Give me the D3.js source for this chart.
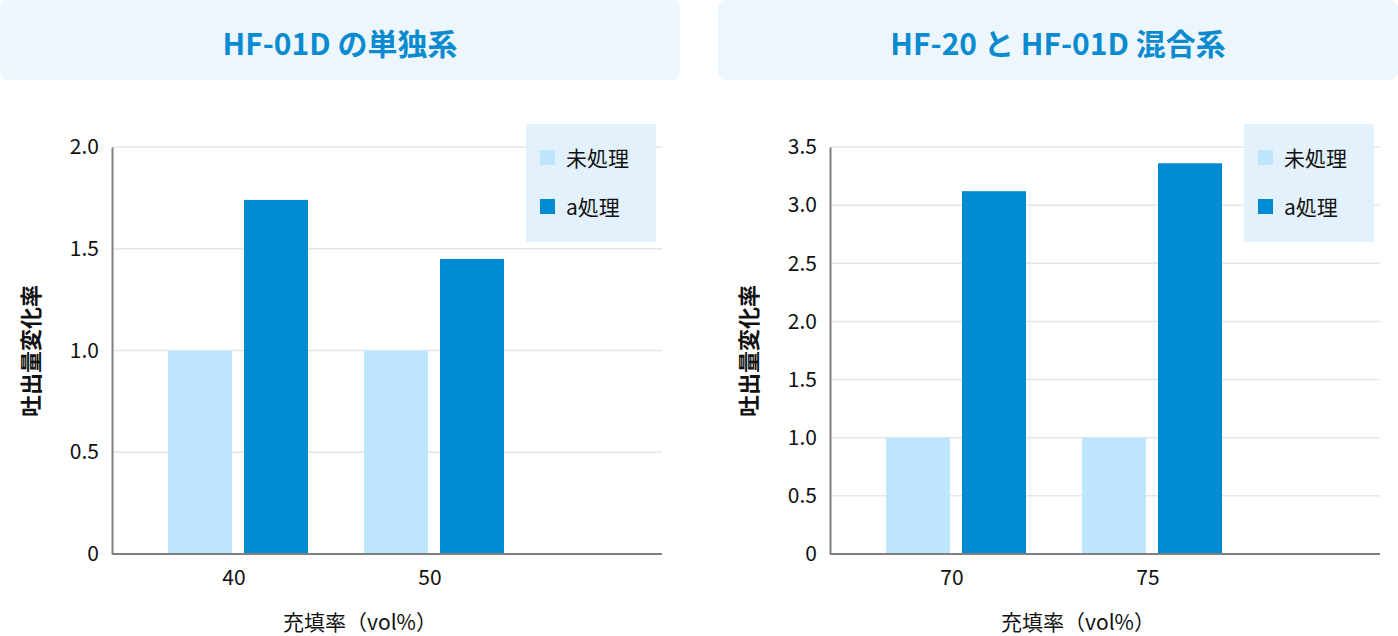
<!DOCTYPE html>
<html>
<head>
<meta charset="utf-8">
<script src="https://cdn.jsdelivr.net/npm/d3@7"></script>
<style>
  html, body { margin: 0; padding: 0; background: #fff; }
  svg { display: block; font-family: "Noto Sans CJK JP", "Noto Sans", sans-serif; }
</style>
</head>
<body>
<div id="chart"></div>
<script>
// data
const seriesNames = ["未処理", "a処理"];
const seriesColors = ["#bde6fc", "#008ad2"];

const titleA = "HF-01D の単独系";
const categoriesA = ["40", "50"];
const untreatedA = [1.0, 1.0];
const treatedA = [1.74, 1.45];
const ticksA = [0, 0.5, 1.0, 1.5, 2.0];

const titleB = "HF-20 と HF-01D 混合系";
const categoriesB = ["70", "75"];
const untreatedB = [1.0, 1.0];
const treatedB = [3.12, 3.36];
const ticksB = [0, 0.5, 1.0, 1.5, 2.0, 2.5, 3.0, 3.5];

const yTitle = "吐出量変化率";
const xTitle = "充填率（vol%）";

const width = 1398, height = 636;

const svg = d3.select("#chart").append("svg")
    .attr("width", width)
    .attr("height", height);

function drawPanel(left, title, categories, untreated, treated, ticks) {
    const g = svg.append("g").attr("transform", "translate(" + left + ",0)");

    // title box
    g.append("rect")
        .attr("x", 0).attr("y", 0)
        .attr("width", 680).attr("height", 80)
        .attr("rx", 8)
        .attr("fill", "#eef6fd");
    g.append("text")
        .attr("x", 340).attr("y", 55)
        .attr("text-anchor", "middle")
        .attr("font-size", 30)
        .attr("font-weight", 700)
        .attr("fill", "#0a8bd0")
        .text(title);

    const plotL = 112, plotR = 662, plotT = 147, plotB = 554;
    const plot = g.append("g").attr("transform", "translate(" + plotL + ",0)");

    const y = d3.scaleLinear()
        .domain([0, ticks[ticks.length - 1]])
        .range([plotB, plotT]);

    const x0 = d3.scaleBand()
        .domain(categories)
        .range([0, 448])
        .paddingInner(2 / 7)
        .paddingOuter(2 / 7);

    const x1 = d3.scaleBand()
        .domain(seriesNames)
        .range([0, x0.bandwidth()])
        .paddingInner(12 / 76);

    // grid
    plot.append("g")
        .selectAll("line")
        .data(ticks.filter(d => d > 0))
        .join("line")
        .attr("x1", 0).attr("x2", plotR - plotL)
        .attr("y1", d => y(d)).attr("y2", d => y(d))
        .attr("stroke", "#e6e6e6")
        .attr("stroke-width", 1.5);

    // bars
    const rows = categories.map((c, i) => ({ cat: c, vals: [untreated[i], treated[i]] }));
    plot.append("g")
        .selectAll("g")
        .data(rows)
        .join("g")
        .attr("transform", d => "translate(" + x0(d.cat) + ",0)")
        .selectAll("rect")
        .data(d => d.vals.map((v, j) => ({ key: seriesNames[j], v: v, j: j })))
        .join("rect")
        .attr("x", d => x1(d.key))
        .attr("y", d => y(d.v))
        .attr("width", x1.bandwidth())
        .attr("height", d => plotB - y(d.v))
        .attr("fill", d => seriesColors[d.j]);

    // y axis
    const yAxis = plot.append("g")
        .call(d3.axisLeft(y).tickValues(ticks).tickSize(0).tickPadding(13)
            .tickFormat(d => d === 0 ? "0" : d3.format(".1f")(d)));
    yAxis.select(".domain").attr("stroke", "#808080").attr("stroke-width", 2);
    yAxis.selectAll("text")
        .attr("font-size", 21)
        .attr("fill", "#111")
        .attr("font-family", "'Noto Sans CJK JP', sans-serif");

    // x axis
    const xAxis = plot.append("g")
        .attr("transform", "translate(0," + plotB + ")")
        .call(d3.axisBottom(x0).tickSize(0).tickPadding(16));
    xAxis.select(".domain")
        .attr("d", "M0,0H" + (plotR - plotL))
        .attr("stroke", "#808080").attr("stroke-width", 2);
    xAxis.selectAll("text")
        .attr("font-size", 21)
        .attr("fill", "#111")
        .attr("dx", -4)
        .attr("font-family", "'Noto Sans CJK JP', sans-serif");

    // axis titles
    g.append("text")
        .attr("transform", "translate(39,351) rotate(-90)")
        .attr("text-anchor", "middle")
        .attr("font-size", 22)
        .attr("font-weight", 700)
        .attr("fill", "#111")
        .text(yTitle);
    g.append("text")
        .attr("x", 360).attr("y", 630)
        .attr("text-anchor", "middle")
        .attr("font-size", 21)
        .attr("fill", "#111")
        .text(xTitle);

    // legend
    const leg = g.append("g").attr("transform", "translate(526,124)");
    leg.append("rect")
        .attr("width", 130).attr("height", 118)
        .attr("fill", "#e3f1fc");
    const item = leg.selectAll("g.item")
        .data(seriesNames)
        .join("g")
        .attr("class", "item")
        .attr("transform", (d, i) => "translate(14," + (26 + i * 49) + ")");
    item.append("rect")
        .attr("x", 0).attr("y", 0)
        .attr("width", 15).attr("height", 15)
        .attr("fill", (d, i) => seriesColors[i]);
    item.append("text")
        .attr("x", 26).attr("y", 16)
        .attr("font-size", 21)
        .attr("fill", "#111")
        .text(d => d);
}

drawPanel(0, titleA, categoriesA, untreatedA, treatedA, ticksA);
drawPanel(718, titleB, categoriesB, untreatedB, treatedB, ticksB);
</script>
</body>
</html>
